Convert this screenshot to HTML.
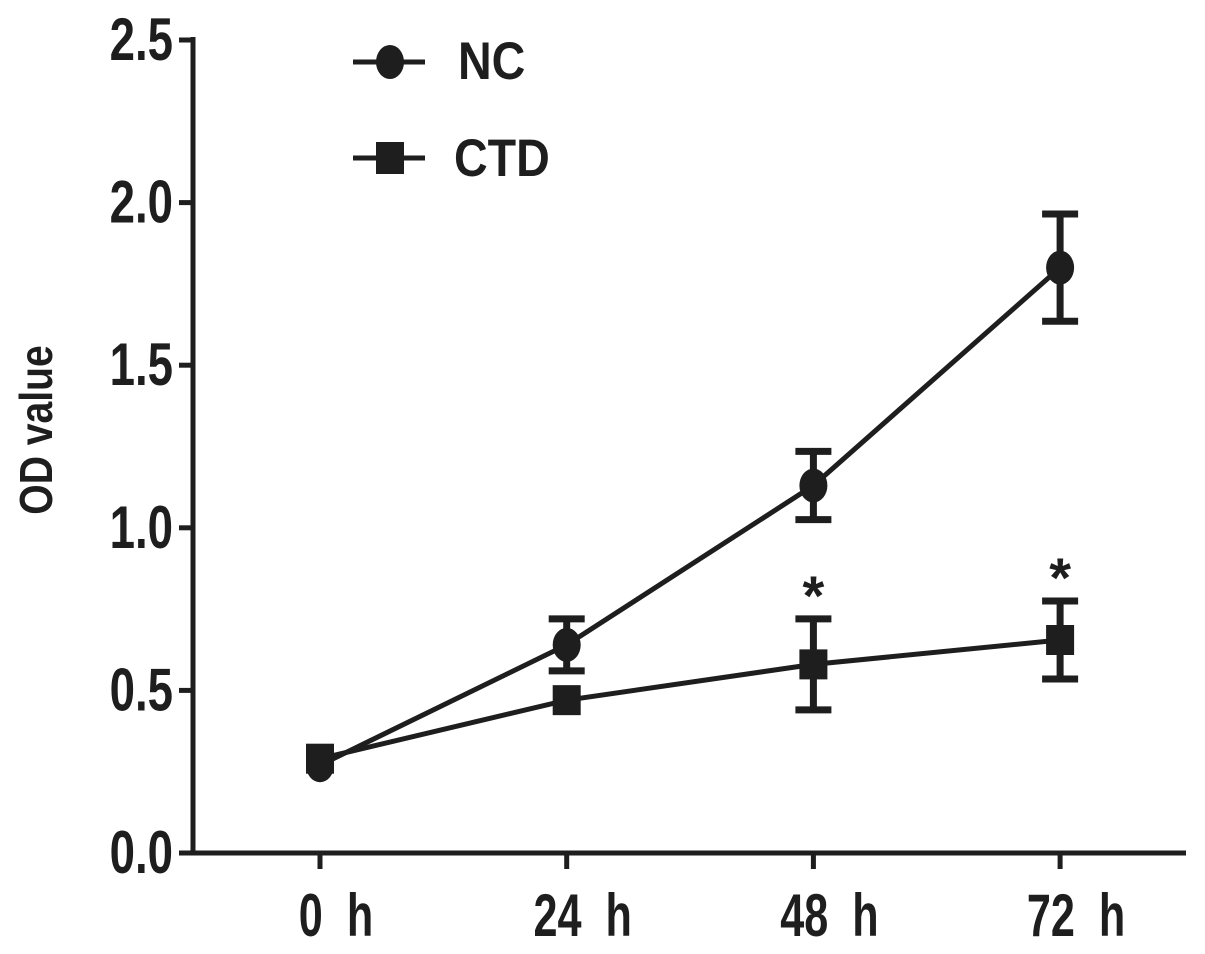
<!DOCTYPE html>
<html><head><meta charset="utf-8"><style>
html,body{margin:0;padding:0;background:#fff;}
svg{display:block;font-family:"Liberation Sans",Arial,sans-serif;font-weight:bold;}
text{white-space:pre;}
</style></head><body>
<svg id="chart" width="1205" height="954" viewBox="0 0 1205 954"></svg>
<script>
const categories = ["0  h","24  h","48  h","72  h"];
const ncValues = [0.27, 0.64, 1.13, 1.80];
const ncErr = [0.02, 0.08, 0.105, 0.165];
const ctdValues = [0.29, 0.47, 0.58, 0.655];
const ctdErr = [0.02, 0.02, 0.14, 0.12];
const yTicks = [0, 0.5, 1.0, 1.5, 2.0, 2.5];
const yTickLabels = ["0.0","0.5","1.0","1.5","2.0","2.5"];
const sigFlags = [false, false, true, true];

const NS = "http://www.w3.org/2000/svg";
const svg = document.getElementById('chart');
const X0 = 193, Y0 = 853, Ytop = 40;
function y(v){ return Y0 - (v/2.5)*(Y0-Ytop); }
function x(i){ return 320 + i*246.7; }
function el(tag, attrs, parent){
  const e = document.createElementNS(NS, tag);
  for (const k in attrs) e.setAttribute(k, attrs[k]);
  (parent||svg).appendChild(e); return e;
}
function txt(px, py, sx, size, anchor, str, parent){
  const t = el('text',{x:0,y:0,transform:`translate(${px},${py}) scale(${sx},1)`,'text-anchor':anchor,'font-size':size,fill:'#1e1e1e'},parent);
  t.textContent = str; return t;
}
// axes
let a = el('line',{x1:X0,y1:Ytop-3,x2:X0,y2:Y0+2,stroke:'#1e1e1e','stroke-width':5});
 
a = el('line',{x1:X0-2,y1:Y0,x2:1186,y2:Y0,stroke:'#1e1e1e','stroke-width':5});
 
yTicks.forEach((t,i)=>{
  const tk = el('line',{x1:X0-14,y1:y(t),x2:X0,y2:y(t),stroke:'#1e1e1e','stroke-width':5});
   
  const tl = txt(X0-20, y(t)+20, 0.76, 60, 'end', yTickLabels[i]);
   
});
categories.forEach((c,i)=>{
  const tk = el('line',{x1:x(i),y1:Y0,x2:x(i),y2:Y0+16,stroke:'#1e1e1e','stroke-width':5});
   
  const tl = txt(x(i)+16, Y0+83, 0.72, 60, 'middle', c);
   
});
const yt = el('text',{x:0,y:0,transform:'translate(52,430) rotate(-90) scale(0.85,1)','text-anchor':'middle','font-size':46,fill:'#1e1e1e'});
yt.textContent = 'OD value';
 

function series(vals, errs, shape, name){
  const g = el('g',{});
   
  el('polyline',{points:vals.map((v,i)=>x(i)+','+y(v)).join(' '),fill:'none',stroke:'#1e1e1e','stroke-width':5},g);
  vals.forEach((v,i)=>{
    const e = errs[i];
    if (e > 0.03){
      const eb = el('path',{d:`M${x(i)},${y(v+e)}V${y(v-e)}M${x(i)-18},${y(v+e)}H${x(i)+18}M${x(i)-18},${y(v-e)}H${x(i)+18}`,stroke:'#1e1e1e','stroke-width':7,fill:'none'},g);
       
    }
    let m;
    if (shape==='circle') m = el('ellipse',{cx:x(i),cy:y(v),rx:14,ry:17,fill:'#1e1e1e'},g);
    else m = el('rect',{x:x(i)-14,y:y(v)-15,width:28,height:30,fill:'#1e1e1e'},g);
     
  });
}
series(ncValues, ncErr, 'circle', 'nc');
series(ctdValues, ctdErr, 'square', 'ctd');
sigFlags.forEach((s,i)=>{
  if(!s) return;
  const t = txt(x(i), y(ctdValues[i]+ctdErr[i])-4, 1, 56, 'middle', '*');
   
});
// legend
const lg = el('g',{});  
el('line',{x1:353,y1:62,x2:425,y2:62,stroke:'#1e1e1e','stroke-width':5},lg);
el('ellipse',{cx:390,cy:62,rx:14,ry:17,fill:'#1e1e1e'},lg);
let lt = txt(458, 79, 0.88, 53, 'start', 'NC', lg);
 
el('line',{x1:353,y1:158,x2:425,y2:158,stroke:'#1e1e1e','stroke-width':5},lg);
el('rect',{x:376,y:142,width:28,height:32,fill:'#1e1e1e'},lg);
lt = txt(454, 176, 0.88, 53, 'start', 'CTD', lg);
 
</script>
</body></html>
